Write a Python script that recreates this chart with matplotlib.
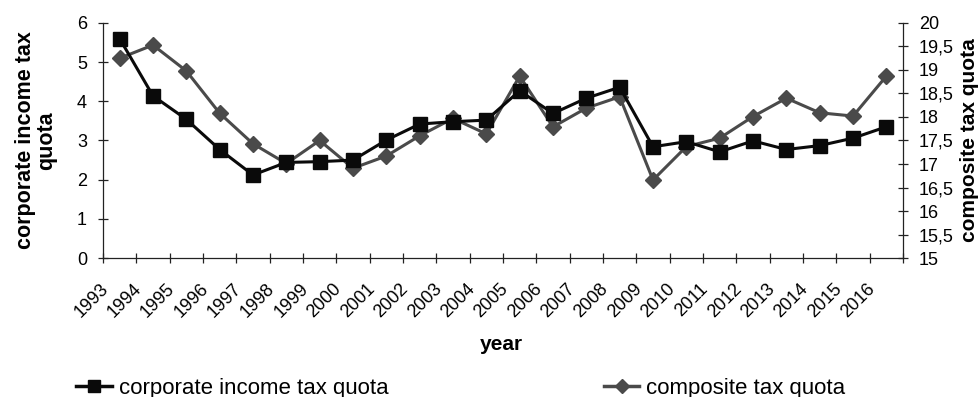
"""
法人税負担率と総合税負担率の推移グラフ
"""
import numpy as np
import matplotlib
matplotlib.use("Agg")
import matplotlib.pyplot as plt
from matplotlib.lines import Line2D

plt.rcParams['font.family'] = ['Liberation Sans', 'DejaVu Sans']

# データ
years = [str(y) for y in range(1993, 2017)]
corporate_quota = [5.60, 4.14, 3.54, 2.77, 2.12, 2.44, 2.46, 2.50, 3.01, 3.42, 3.48, 3.52,
                   4.27, 3.69, 4.08, 4.36, 2.84, 2.97, 2.71, 2.99, 2.77, 2.87, 3.06, 3.35]
composite_quota = [19.25, 19.53, 18.98, 18.08, 17.43, 17.01, 17.50, 16.91, 17.17, 17.60, 17.97, 17.64,
                   18.87, 17.79, 18.19, 18.43, 16.66, 17.37, 17.55, 18.01, 18.40, 18.09, 18.02, 18.87]
left_ticks = [0, 1, 2, 3, 4, 5, 6]
right_ticks = [15, 15.5, 16, 16.5, 17, 17.5, 18, 18.5, 19, 19.5, 20]

BLACK = "#0a0a0a"
GREY = "#4a4a4a"
AXIS = "#222222"

fig = plt.figure(figsize=(9.79, 3.97), dpi=100)
ax = fig.add_axes([0.1052, 0.3501, 0.8172, 0.592])
ax2 = ax.twinx()

x = np.arange(len(years)) + 0.5

ax.plot(x, corporate_quota, color=BLACK, linewidth=2.2, marker="s",
        markersize=9.5, zorder=3)
ax2.plot(x, composite_quota, color=GREY, linewidth=2.2, marker="D",
         markersize=8.5, zorder=3)
ax.set_zorder(ax2.get_zorder() + 1)
ax.patch.set_visible(False)

# 軸設定
ax.set_xlim(0, len(years))
ax.set_ylim(0, 6)
ax2.set_ylim(15, 20)
ax.set_yticks(left_ticks)
ax.set_yticklabels([str(t) for t in left_ticks])
ax2.set_yticks(right_ticks)
ax2.set_yticklabels([f"{t:g}".replace(".", ",") for t in right_ticks])

# 区切り目盛り（主）と年ラベル（副、長さ0で少し左寄せ）
ax.set_xticks(np.arange(len(years) + 1))
ax.set_xticklabels([])
ax.set_xticks(x - 0.24, minor=True)
ax.set_xticklabels(years, minor=True, rotation=45, ha="right", va="top")

for a in (ax, ax2):
    a.spines["top"].set_visible(False)
    a.tick_params(axis="both", which="major", direction="inout", length=7,
                  width=0.9, labelsize=13, color=AXIS)
    for s in a.spines.values():
        s.set_linewidth(0.9)
        s.set_color(AXIS)
ax.tick_params(axis="x", which="minor", length=0, labelsize=13, pad=16)
ax.spines["right"].set_visible(False)
ax2.spines["left"].set_visible(False)
ax2.spines["bottom"].set_visible(False)
ax.tick_params(axis="y", pad=8)
ax2.tick_params(axis="y", pad=8)

ax.set_ylabel("corporate income tax\nquota", fontsize=15.5, fontweight="bold",
              labelpad=14, linespacing=1.0)
ax2.set_ylabel("composite tax quota", fontsize=15, fontweight="bold", labelpad=4)
fig.text(0.512, 0.131, "year", fontsize=15, fontweight="bold", ha="center", va="center")

# 凡例
handles = [
    Line2D([], [], color=BLACK, linewidth=2.5, marker="s", markersize=8),
    Line2D([], [], color=GREY, linewidth=2.5, marker="D", markersize=7.5),
]
fig.legend(handles, ["corporate income tax quota", "composite tax quota"],
           loc="center left", bbox_to_anchor=(0.078, 0.022), ncol=2, frameon=False,
           fontsize=16, handlelength=1.6, handletextpad=0.3, columnspacing=9.7,
           borderaxespad=0, borderpad=0)

fig.savefig("out.png", dpi=100)
plt.close(fig)
